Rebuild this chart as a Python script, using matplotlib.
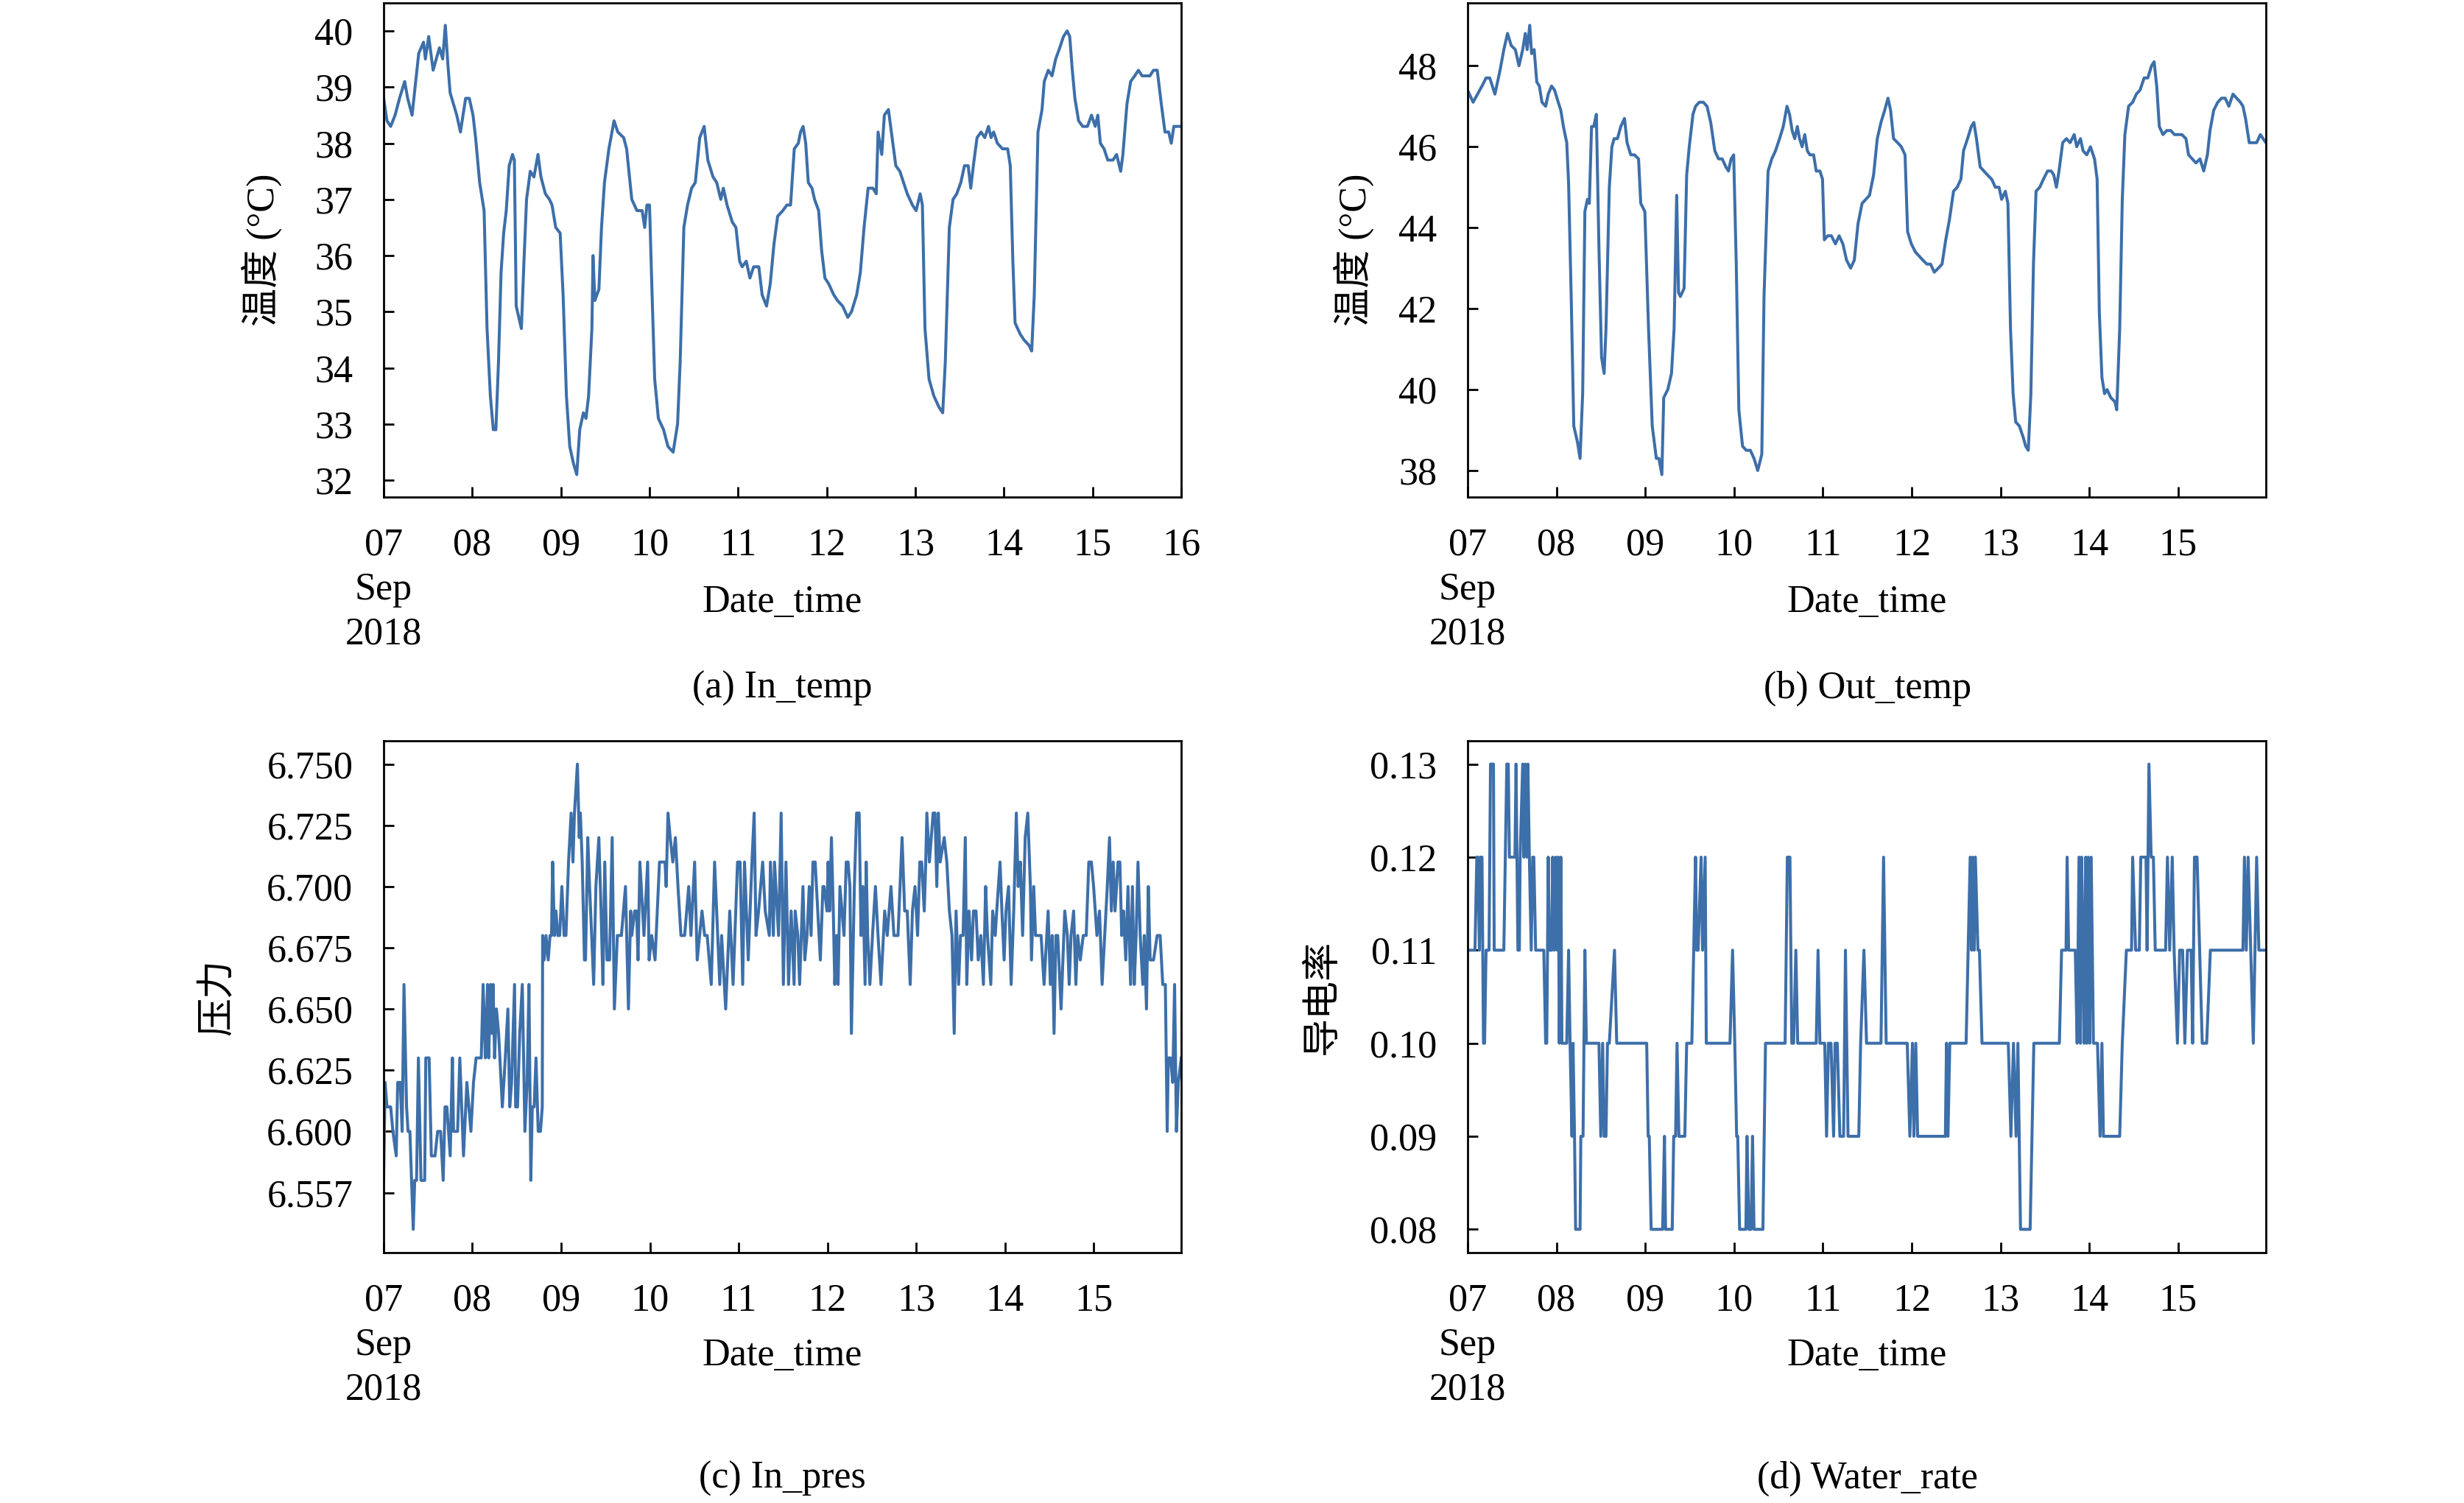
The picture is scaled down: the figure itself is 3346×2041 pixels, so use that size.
import numpy as np
import matplotlib
matplotlib.use("Agg")
import matplotlib.pyplot as plt

plt.rcParams['font.family'] = ['Liberation Serif', 'Noto Sans CJK SC']
plt.rcParams['font.size'] = 37.5
plt.rcParams['axes.linewidth'] = 2.0
plt.rcParams['xtick.direction'] = 'in'
plt.rcParams['ytick.direction'] = 'in'
plt.rcParams['xtick.major.size'] = 10
plt.rcParams['ytick.major.size'] = 10
plt.rcParams['xtick.major.width'] = 2.0
plt.rcParams['ytick.major.width'] = 2.0

""" data (hours since 2018-09-07 00:00, read off the figure) """
in_temp_h = [0.0, 0.9, 1.9, 3.1, 4.3, 5.7, 6.5, 7.7, 9.5, 10.8,
             11.3, 12.2, 13.4, 15.1, 16.0, 16.7, 17.4, 18.0, 19.8, 20.8,
             22.2, 23.2, 24.2, 24.9, 26.0, 27.2, 28.0, 28.9, 29.7, 30.4,
             31.1, 31.8, 32.5, 33.2, 34.0, 34.9, 35.4, 35.9, 37.3, 38.0,
             38.7, 39.7, 40.7, 41.8, 42.6, 43.8, 44.9, 45.6, 46.6, 47.8,
             48.6, 49.5, 50.4, 51.4, 52.3, 53.1, 54.1, 54.8, 55.5, 56.4,
             56.7, 57.2, 58.3, 59.0, 59.8, 61.0, 62.4, 63.4, 65.0, 65.8,
             67.2, 68.6, 70.0, 70.7, 71.3, 72.0, 72.7, 73.4, 74.4, 75.8,
             77.0, 78.4, 79.6, 80.3, 81.3, 82.3, 83.4, 84.4, 85.6, 86.8,
             87.8, 89.2, 90.2, 91.3, 92.0, 93.0, 94.4, 95.4, 96.4, 97.1,
             98.2, 99.2, 100.2, 101.6, 102.5, 103.7, 104.7, 105.7, 106.7, 108.1,
             109.2, 110.2, 111.2, 112.3, 112.9, 113.6, 114.3, 115.0, 116.0, 116.7,
             117.8, 118.6, 119.5, 120.5, 121.9, 122.9, 124.3, 125.7, 126.7, 128.1,
             129.1, 130.1, 131.2, 132.5, 133.4, 133.9, 134.9, 135.6, 136.7, 137.7,
             138.7, 139.8, 140.8, 141.8, 143.2, 144.2, 145.3, 145.9, 146.6, 147.7,
             149.0, 150.4, 151.4, 152.1, 153.2, 154.2, 155.2, 156.3, 157.3, 158.3,
             159.0, 159.7, 160.7, 161.8, 162.8, 163.8, 164.5, 165.2, 166.2, 167.6,
             169.0, 169.7, 170.4, 171.0, 172.4, 173.4, 174.8, 175.5, 176.2, 177.2,
             178.3, 178.9, 180.0, 181.0, 182.0, 183.1, 184.1, 185.1, 185.8, 186.5,
             187.2, 188.2, 189.3, 190.6, 191.7, 192.7, 193.4, 194.1, 195.1, 196.1,
             197.5, 198.5, 199.6, 200.2, 201.3, 202.3, 203.4, 204.4, 205.4, 206.5,
             207.5, 208.5, 209.5, 210.6, 211.6, 212.6, 213.3, 214.0, 216.0]
in_temp = [38.8, 38.4, 38.3, 38.5, 38.8, 39.1, 38.8, 38.5, 39.6, 39.8,
           39.5, 39.9, 39.3, 39.7, 39.5, 40.1, 39.4, 38.9, 38.5, 38.2,
           38.8, 38.8, 38.5, 38.1, 37.3, 36.8, 34.7, 33.5, 32.9, 32.9,
           34.1, 35.7, 36.4, 36.8, 37.6, 37.8, 37.7, 35.1, 34.7, 35.9,
           37.0, 37.5, 37.4, 37.8, 37.4, 37.1, 37.0, 36.9, 36.5, 36.4,
           35.3, 33.5, 32.6, 32.3, 32.1, 32.9, 33.2, 33.1, 33.5, 34.7,
           36.0, 35.2, 35.4, 36.5, 37.3, 37.9, 38.4, 38.2, 38.1, 37.9,
           37.0, 36.8, 36.8, 36.5, 36.9, 36.9, 35.3, 33.8, 33.1, 32.9,
           32.6, 32.5, 33.0, 34.1, 36.5, 36.9, 37.2, 37.3, 38.1, 38.3,
           37.7, 37.4, 37.3, 37.0, 37.2, 36.9, 36.6, 36.5, 35.9, 35.8,
           35.9, 35.6, 35.8, 35.8, 35.3, 35.1, 35.5, 36.2, 36.7, 36.8,
           36.9, 36.9, 37.9, 38.0, 38.2, 38.3, 38.0, 37.3, 37.2, 37.0,
           36.8, 36.1, 35.6, 35.5, 35.3, 35.2, 35.1, 34.9, 35.0, 35.3,
           35.7, 36.5, 37.2, 37.2, 37.1, 38.2, 37.8, 38.5, 38.6, 38.1,
           37.6, 37.5, 37.3, 37.1, 36.9, 36.8, 37.1, 36.9, 34.7, 33.8,
           33.5, 33.3, 33.2, 34.1, 36.5, 37.0, 37.1, 37.3, 37.6, 37.6,
           37.2, 37.6, 38.1, 38.2, 38.1, 38.3, 38.1, 38.2, 38.0, 37.9,
           37.9, 37.6, 35.9, 34.8, 34.6, 34.5, 34.4, 34.3, 35.3, 38.2,
           38.6, 39.1, 39.3, 39.2, 39.5, 39.7, 39.9, 40.0, 39.9, 39.3,
           38.8, 38.4, 38.3, 38.3, 38.5, 38.3, 38.5, 38.0, 37.9, 37.7,
           37.7, 37.8, 37.5, 37.8, 38.7, 39.1, 39.2, 39.3, 39.2, 39.2,
           39.2, 39.3, 39.3, 38.7, 38.2, 38.2, 38.0, 38.3, 38.3]

out_temp_h = [0.0, 1.5, 2.7, 3.9, 5.0, 6.0, 7.4, 8.8, 9.8, 10.8,
              11.8, 12.9, 13.9, 14.9, 15.6, 16.1, 16.8, 17.3, 18.0, 18.7,
              19.4, 20.1, 21.1, 21.8, 22.7, 23.5, 24.5, 25.2, 25.9, 26.8,
              27.3, 28.0, 28.7, 29.7, 30.4, 31.1, 31.7, 32.4, 32.9, 33.5,
              34.1, 34.8, 35.5, 36.2, 36.9, 37.4, 38.3, 39.0, 39.6, 40.5,
              41.4, 42.4, 43.1, 44.1, 45.1, 46.2, 46.8, 47.9, 48.9, 49.9,
              51.0, 51.7, 52.5, 53.0, 54.1, 55.1, 55.8, 56.5, 57.0, 57.5,
              58.5, 59.2, 59.9, 60.9, 61.6, 62.6, 63.7, 64.7, 65.7, 66.8,
              67.8, 68.8, 69.8, 70.5, 71.2, 71.9, 72.6, 73.3, 74.3, 75.3,
              76.4, 77.4, 78.4, 79.5, 80.1, 81.2, 82.2, 83.2, 84.3, 85.3,
              86.3, 87.0, 87.7, 88.4, 89.1, 89.7, 90.4, 91.1, 91.8, 92.5,
              93.5, 94.2, 95.2, 95.9, 96.4, 97.3, 98.3, 99.4, 100.4, 101.4,
              102.4, 103.5, 104.5, 105.5, 106.6, 107.6, 108.6, 109.7, 110.7, 111.7,
              112.7, 113.6, 114.3, 115.1, 116.2, 117.2, 118.2, 118.9, 119.9, 121.0,
              122.0, 123.0, 124.1, 125.1, 126.1, 127.2, 128.2, 129.2, 130.2, 131.3,
              132.3, 133.3, 134.0, 135.1, 136.1, 136.8, 137.5, 138.5, 139.5, 140.5,
              141.6, 142.6, 143.6, 144.3, 145.3, 146.0, 146.7, 147.4, 148.1, 149.1,
              150.2, 150.8, 151.5, 152.2, 152.9, 153.6, 154.6, 155.6, 156.7, 157.7,
              158.4, 159.1, 159.8, 160.8, 161.8, 162.8, 163.9, 164.6, 165.6, 166.3,
              167.3, 168.3, 169.4, 170.1, 170.7, 171.4, 172.1, 172.8, 173.8, 174.9,
              175.4, 176.2, 176.9, 177.6, 178.6, 179.7, 180.7, 181.7, 182.8, 183.8,
              184.8, 185.5, 186.2, 186.9, 187.9, 188.9, 190.0, 191.0, 192.0, 193.0,
              194.1, 194.8, 195.8, 196.8, 197.9, 198.9, 199.9, 200.6, 201.6, 202.7,
              203.7, 204.7, 205.7, 206.8, 207.8, 208.8, 209.5, 210.2, 211.2, 212.2,
              213.2, 214.2, 215.7]
out_temp = [47.4, 47.1, 47.3, 47.5, 47.7, 47.7, 47.3, 47.9, 48.4, 48.8,
            48.5, 48.4, 48.0, 48.4, 48.8, 48.4, 49.0, 48.3, 48.4, 47.6,
            47.5, 47.1, 47.0, 47.3, 47.5, 47.4, 47.1, 46.9, 46.5, 46.1,
            45.1, 42.3, 39.1, 38.7, 38.3, 39.9, 44.4, 44.7, 44.6, 46.5,
            46.5, 46.8, 43.5, 40.8, 40.4, 41.5, 45.0, 46.0, 46.2, 46.2,
            46.5, 46.7, 46.1, 45.8, 45.8, 45.7, 44.6, 44.4, 41.5, 39.1,
            38.3, 38.3, 37.9, 39.8, 40.0, 40.4, 41.5, 44.8, 42.4, 42.3,
            42.5, 45.3, 46.0, 46.8, 47.0, 47.1, 47.1, 47.0, 46.6, 45.9,
            45.7, 45.7, 45.5, 45.4, 45.7, 45.8, 43.1, 39.5, 38.6, 38.5,
            38.5, 38.3, 38.0, 38.4, 42.3, 45.4, 45.7, 45.9, 46.2, 46.5,
            47.0, 46.8, 46.4, 46.2, 46.5, 46.2, 46.0, 46.3, 45.9, 45.8,
            45.8, 45.4, 45.4, 45.2, 43.7, 43.8, 43.8, 43.6, 43.8, 43.6,
            43.2, 43.0, 43.2, 44.1, 44.6, 44.7, 44.8, 45.3, 46.2, 46.6,
            46.9, 47.2, 46.9, 46.2, 46.1, 46.0, 45.8, 43.9, 43.6, 43.4,
            43.3, 43.2, 43.1, 43.1, 42.9, 43.0, 43.1, 43.7, 44.2, 44.9,
            45.0, 45.2, 45.9, 46.2, 46.5, 46.6, 46.2, 45.5, 45.4, 45.3,
            45.2, 45.0, 45.0, 44.7, 44.9, 44.6, 41.5, 39.9, 39.2, 39.1,
            38.8, 38.6, 38.5, 39.9, 43.1, 44.9, 45.0, 45.2, 45.4, 45.4,
            45.3, 45.0, 45.4, 46.1, 46.2, 46.1, 46.3, 46.0, 46.2, 45.9,
            45.8, 46.0, 45.7, 45.2, 41.9, 40.3, 39.9, 40.0, 39.8, 39.7,
            39.5, 41.5, 44.7, 46.3, 47.0, 47.1, 47.3, 47.4, 47.7, 47.7,
            48.0, 48.1, 47.5, 46.5, 46.3, 46.4, 46.4, 46.3, 46.3, 46.3,
            46.2, 45.8, 45.7, 45.6, 45.7, 45.4, 45.8, 46.4, 46.9, 47.1,
            47.2, 47.2, 47.0, 47.3, 47.2, 47.1, 47.0, 46.7, 46.1, 46.1,
            46.1, 46.3, 46.1]

in_pres_h = [0.0, 0.4, 0.9, 1.4, 1.9, 2.5, 3.4, 3.8, 4.5, 5.0,
             5.5, 6.2, 6.6, 7.1, 8.0, 8.4, 8.9, 9.4, 10.1, 11.1,
             11.4, 12.3, 12.9, 13.9, 14.6, 15.4, 16.1, 16.6, 17.1, 18.0,
             18.6, 18.9, 20.0, 20.6, 21.6, 22.5, 23.6, 24.3, 25.0, 26.4,
             26.9, 27.5, 28.1, 28.4, 28.9, 29.3, 29.6, 30.0, 30.5, 31.1,
             32.1, 32.9, 33.6, 34.1, 34.6, 35.4, 35.7, 36.2, 36.8, 37.5,
             38.2, 38.8, 39.3, 39.8, 40.2, 40.7, 41.2, 41.8, 42.4, 42.9,
             43.0, 43.4, 43.9, 44.5, 45.0, 45.4, 45.7, 46.2, 46.6, 47.1,
             47.6, 48.2, 48.8, 49.3, 50.0, 50.7, 51.2, 51.6, 52.4, 52.9,
             53.2, 53.7, 54.3, 54.6, 55.2, 55.7, 56.8, 57.4, 58.2, 58.8,
             59.3, 59.8, 60.4, 61.1, 61.8, 62.4, 63.2, 64.3, 65.4, 66.2,
             66.8, 67.1, 67.9, 68.4, 68.8, 69.3, 70.4, 71.4, 71.8, 72.5,
             73.4, 74.6, 76.1, 76.4, 76.9, 77.5, 78.2, 78.9, 79.6, 80.4,
             81.4, 82.5, 83.1, 84.1, 84.8, 86.1, 86.8, 87.5, 88.6, 89.5,
             90.9, 91.4, 92.5, 93.6, 94.5, 95.7, 96.4, 97.1, 97.6, 98.6,
             99.6, 100.2, 100.7, 101.4, 102.5, 103.2, 104.3, 104.6, 105.4, 105.7,
             106.8, 107.5, 108.1, 108.8, 109.5, 110.2, 111.0, 111.3, 112.0, 112.5,
             113.4, 113.9, 114.5, 115.1, 115.6, 116.1, 116.7, 117.4, 118.1, 118.8,
             119.1, 119.9, 120.2, 120.6, 121.1, 121.6, 122.0, 122.5, 122.9, 123.4,
             124.5, 125.1, 125.6, 126.1, 126.5, 127.3, 127.9, 128.6, 129.1, 129.6,
             130.2, 130.5, 130.9, 131.5, 132.2, 133.0, 133.7, 134.5, 135.5, 136.2,
             137.2, 138.0, 139.1, 140.2, 140.9, 141.6, 142.4, 143.0, 143.7, 144.4,
             145.0, 145.5, 146.2, 146.6, 146.9, 147.6, 148.1, 148.6, 149.1, 149.6,
             150.0, 150.5, 151.6, 152.3, 153.0, 153.7, 154.3, 154.8, 155.5, 156.0,
             156.7, 157.3, 157.7, 158.3, 159.0, 159.5, 160.2, 160.8, 161.5, 162.2,
             162.8, 163.3, 164.2, 164.7, 165.4, 165.8, 166.7, 167.2, 167.8, 168.3,
             169.0, 169.7, 170.4, 171.1, 171.6, 172.2, 172.8, 173.5, 174.2, 174.9,
             175.2, 175.8, 176.3, 177.1, 177.8, 178.6, 179.7, 180.3, 180.8, 181.3,
             181.8, 182.3, 183.2, 184.2, 184.9, 185.4, 185.9, 186.6, 187.2, 187.7,
             188.4, 189.2, 190.0, 190.7, 191.4, 192.0, 192.9, 193.6, 194.3, 195.0,
             195.7, 196.3, 196.8, 197.3, 197.8, 198.6, 199.1, 199.6, 200.1, 200.7,
             201.3, 202.0, 202.5, 203.0, 203.5, 204.0, 204.6, 205.3, 205.7, 206.3,
             206.8, 207.3, 208.2, 209.2, 210.0, 210.7, 211.4, 211.9, 212.2, 212.8,
             213.4, 213.9, 214.4, 214.9, 215.7]
in_pres = [6.58, 6.62, 6.61, 6.61, 6.61, 6.60, 6.59, 6.62, 6.62, 6.60,
           6.66, 6.61, 6.60, 6.60, 6.56, 6.58, 6.58, 6.63, 6.58, 6.58,
           6.63, 6.63, 6.59, 6.59, 6.60, 6.60, 6.58, 6.61, 6.61, 6.59,
           6.63, 6.60, 6.60, 6.63, 6.59, 6.62, 6.60, 6.62, 6.63, 6.63,
           6.66, 6.63, 6.66, 6.63, 6.66, 6.64, 6.66, 6.63, 6.65, 6.64,
           6.61, 6.63, 6.65, 6.61, 6.62, 6.66, 6.61, 6.61, 6.64, 6.66,
           6.60, 6.62, 6.66, 6.58, 6.61, 6.61, 6.63, 6.60, 6.60, 6.61,
           6.68, 6.67, 6.68, 6.67, 6.68, 6.68, 6.71, 6.68, 6.69, 6.68,
           6.68, 6.70, 6.68, 6.68, 6.71, 6.73, 6.71, 6.73, 6.75, 6.72,
           6.73, 6.71, 6.67, 6.67, 6.72, 6.70, 6.66, 6.70, 6.72, 6.69,
           6.66, 6.71, 6.67, 6.67, 6.72, 6.65, 6.68, 6.68, 6.70, 6.65,
           6.69, 6.68, 6.69, 6.69, 6.67, 6.71, 6.68, 6.71, 6.67, 6.68,
           6.67, 6.71, 6.71, 6.70, 6.73, 6.72, 6.71, 6.72, 6.70, 6.68,
           6.68, 6.70, 6.68, 6.71, 6.67, 6.69, 6.68, 6.68, 6.66, 6.71,
           6.66, 6.68, 6.65, 6.69, 6.66, 6.71, 6.71, 6.66, 6.71, 6.67,
           6.71, 6.73, 6.68, 6.69, 6.71, 6.69, 6.68, 6.71, 6.68, 6.71,
           6.68, 6.73, 6.66, 6.71, 6.66, 6.69, 6.66, 6.69, 6.68, 6.66,
           6.70, 6.67, 6.68, 6.70, 6.68, 6.71, 6.71, 6.69, 6.67, 6.70,
           6.70, 6.69, 6.71, 6.69, 6.72, 6.69, 6.66, 6.68, 6.66, 6.70,
           6.68, 6.71, 6.71, 6.70, 6.64, 6.70, 6.73, 6.73, 6.68, 6.70,
           6.66, 6.71, 6.68, 6.66, 6.68, 6.70, 6.68, 6.66, 6.69, 6.68,
           6.70, 6.68, 6.68, 6.72, 6.69, 6.69, 6.66, 6.69, 6.70, 6.68,
           6.71, 6.71, 6.69, 6.71, 6.73, 6.71, 6.72, 6.73, 6.73, 6.70,
           6.73, 6.71, 6.72, 6.71, 6.69, 6.68, 6.64, 6.69, 6.66, 6.68,
           6.68, 6.72, 6.66, 6.69, 6.67, 6.69, 6.69, 6.67, 6.68, 6.66,
           6.70, 6.68, 6.66, 6.69, 6.68, 6.69, 6.71, 6.69, 6.67, 6.69,
           6.70, 6.66, 6.69, 6.73, 6.70, 6.71, 6.68, 6.72, 6.73, 6.70,
           6.67, 6.70, 6.68, 6.68, 6.68, 6.66, 6.69, 6.66, 6.68, 6.64,
           6.68, 6.68, 6.65, 6.69, 6.68, 6.66, 6.68, 6.69, 6.66, 6.68,
           6.67, 6.68, 6.68, 6.71, 6.71, 6.70, 6.68, 6.69, 6.66, 6.68,
           6.70, 6.72, 6.69, 6.71, 6.69, 6.71, 6.71, 6.68, 6.69, 6.67,
           6.70, 6.66, 6.70, 6.66, 6.68, 6.71, 6.68, 6.66, 6.68, 6.65,
           6.70, 6.67, 6.67, 6.68, 6.68, 6.66, 6.66, 6.60, 6.63, 6.63,
           6.62, 6.66, 6.60, 6.62, 6.63]

water_h = [0.0, 2.0, 2.5, 2.8, 3.2, 3.5, 3.9, 4.3, 4.6, 5.0,
           5.8, 6.2, 7.0, 7.2, 9.8, 10.6, 11.0, 11.3, 12.8, 13.1,
           13.6, 14.0, 14.2, 14.9, 15.2, 15.6, 16.0, 16.3, 16.7, 17.2,
           17.6, 17.9, 18.4, 20.6, 21.1, 21.4, 21.8, 22.1, 22.7, 23.0,
           23.4, 23.8, 24.2, 24.5, 24.8, 25.2, 25.5, 26.8, 27.3, 27.7,
           28.2, 28.5, 28.9, 29.2, 30.4, 30.6, 31.2, 31.7, 32.1, 35.5,
           36.0, 36.5, 36.9, 37.4, 37.8, 38.3, 39.7, 40.3, 48.4, 48.8,
           49.1, 49.6, 52.7, 53.2, 53.5, 55.3, 55.7, 56.2, 56.6, 57.1,
           58.7, 59.2, 60.6, 61.6, 61.9, 62.3, 63.1, 63.5, 64.2, 64.5,
           70.9, 71.6, 72.2, 72.7, 73.0, 73.5, 75.2, 75.5, 76.0, 76.6,
           77.0, 77.4, 79.8, 80.5, 85.8, 86.4, 87.1, 87.6, 88.1, 88.7,
           89.2, 94.2, 94.7, 95.2, 96.5, 97.0, 97.5, 98.2, 98.9, 99.3,
           99.9, 100.6, 101.6, 102.1, 102.8, 105.7, 106.2, 107.1, 107.8, 111.7,
           112.4, 113.1, 118.8, 119.5, 120.2, 120.6, 121.1, 121.6, 129.1, 129.4,
           129.8, 130.3, 134.7, 135.8, 136.2, 136.5, 136.9, 137.2, 137.9, 138.3,
           139.0, 146.1, 146.8, 147.5, 148.2, 148.7, 149.4, 152.0, 153.0, 159.9,
           160.5, 161.7, 162.0, 162.4, 164.2, 164.7, 165.2, 165.6, 165.9, 166.3,
           166.6, 167.0, 167.3, 167.7, 168.1, 168.5, 169.1, 170.2, 170.9, 171.4,
           171.8, 176.2, 176.9, 178.0, 179.4, 179.7, 180.5, 181.5, 181.9, 183.3,
           183.6, 184.1, 184.7, 185.3, 185.8, 188.6, 189.1, 189.7, 190.4, 190.9,
           191.8, 192.4, 193.2, 193.8, 194.5, 195.5, 195.9, 196.4, 197.1, 197.8,
           198.5, 199.7, 200.7, 209.5, 209.9, 210.4, 210.9, 211.6, 212.3, 213.2,
           213.8, 215.7]
water_rate = [0.11, 0.11, 0.12, 0.12, 0.11, 0.12, 0.12, 0.10, 0.10, 0.11,
              0.11, 0.13, 0.13, 0.11, 0.11, 0.13, 0.13, 0.12, 0.12, 0.13,
              0.11, 0.11, 0.12, 0.13, 0.12, 0.13, 0.12, 0.13, 0.12, 0.11,
              0.12, 0.12, 0.11, 0.11, 0.10, 0.10, 0.12, 0.11, 0.11, 0.12,
              0.11, 0.12, 0.11, 0.12, 0.10, 0.12, 0.10, 0.10, 0.11, 0.10,
              0.09, 0.10, 0.09, 0.08, 0.08, 0.09, 0.09, 0.11, 0.10, 0.10,
              0.09, 0.10, 0.09, 0.09, 0.10, 0.10, 0.11, 0.10, 0.10, 0.09,
              0.09, 0.08, 0.08, 0.09, 0.08, 0.08, 0.09, 0.09, 0.10, 0.09,
              0.09, 0.10, 0.10, 0.12, 0.11, 0.11, 0.12, 0.11, 0.12, 0.10,
              0.10, 0.11, 0.10, 0.09, 0.09, 0.08, 0.08, 0.09, 0.08, 0.08,
              0.09, 0.08, 0.08, 0.10, 0.10, 0.12, 0.12, 0.10, 0.10, 0.11,
              0.10, 0.10, 0.11, 0.10, 0.10, 0.09, 0.10, 0.10, 0.09, 0.10,
              0.10, 0.09, 0.09, 0.11, 0.09, 0.09, 0.10, 0.11, 0.10, 0.10,
              0.12, 0.10, 0.10, 0.09, 0.10, 0.09, 0.10, 0.09, 0.09, 0.10,
              0.09, 0.10, 0.10, 0.12, 0.11, 0.12, 0.11, 0.12, 0.11, 0.11,
              0.10, 0.10, 0.09, 0.10, 0.09, 0.10, 0.08, 0.08, 0.10, 0.10,
              0.11, 0.11, 0.12, 0.11, 0.11, 0.10, 0.12, 0.10, 0.12, 0.11,
              0.10, 0.12, 0.10, 0.12, 0.10, 0.12, 0.10, 0.10, 0.09, 0.10,
              0.09, 0.09, 0.10, 0.11, 0.11, 0.12, 0.11, 0.11, 0.12, 0.12,
              0.11, 0.13, 0.12, 0.12, 0.11, 0.11, 0.12, 0.11, 0.12, 0.11,
              0.10, 0.11, 0.11, 0.10, 0.11, 0.11, 0.10, 0.12, 0.12, 0.11,
              0.10, 0.10, 0.11, 0.11, 0.12, 0.11, 0.12, 0.11, 0.10, 0.12,
              0.11, 0.11]

# axis ticks / labels
day_labels_a = ['07\nSep\n2018', '08', '09', '10', '11', '12', '13', '14', '15', '16']
day_labels = ['07\nSep\n2018', '08', '09', '10', '11', '12', '13', '14', '15']
yt_a = [32, 33, 34, 35, 36, 37, 38, 39, 40]
yt_b = [38, 40, 42, 44, 46, 48]
yt_c = [6.575, 6.600, 6.625, 6.650, 6.675, 6.700, 6.725, 6.750]
yt_c_labels = ['6.557', '6.600', '6.625', '6.650', '6.675', '6.700', '6.725', '6.750']
yt_d = [0.08, 0.09, 0.10, 0.11, 0.12, 0.13]
yt_d_labels = ['0.08', '0.09', '0.10', '0.11', '0.12', '0.13']

base = np.datetime64('2018-09-07T00:00')
line_color = '#3d6fa9'


def to_time(hours):
    mins = np.round(np.asarray(hours) * 60).astype(np.int64)
    return base + mins.astype('timedelta64[m]')


def draw(ax, hours, vals, labels, yticks, ylabels, ylab, ylab_x, xlab_y):
    t = to_time(hours)
    ax.plot(t, vals, color=line_color, lw=2.9)
    ax.set_xlim(t[0], t[-1])
    ticks = [base + np.timedelta64(d, 'D') for d in range(len(labels))]
    ax.set_xticks(ticks)
    ax.set_xticklabels(labels, linespacing=1.34)
    ax.set_yticks(yticks)
    ax.set_yticklabels(ylabels)
    ax.tick_params(axis='x', pad=30)
    ax.tick_params(axis='y', pad=30)
    ax.set_xlabel('Date_time')
    ax.xaxis.label.set_verticalalignment('center')
    ax.xaxis.set_label_coords(0.5, xlab_y)
    ax.set_ylabel(ylab)
    ax.yaxis.label.set_verticalalignment('center')
    ax.yaxis.set_label_coords(ylab_x, 0.5)


fig = plt.figure(figsize=(33.46, 20.41), dpi=100)
ax_a = fig.add_axes([0.1557, 0.6693, 0.3237, 0.3288])
ax_b = fig.add_axes([0.5956, 0.6693, 0.3240, 0.3288])
ax_c = fig.add_axes([0.1557, 0.1666, 0.3237, 0.3405])
ax_d = fig.add_axes([0.5956, 0.1666, 0.3240, 0.3405])

draw(ax_a, in_temp_h, in_temp, day_labels_a, yt_a, [str(v) for v in yt_a], '温度 (°C)', -0.153, -0.213)
draw(ax_b, out_temp_h, out_temp, day_labels, yt_b, [str(v) for v in yt_b], '温度 (°C)', -0.143, -0.213)
draw(ax_c, in_pres_h, in_pres, day_labels, yt_c, yt_c_labels, '压力', -0.208, -0.201)
draw(ax_d, water_h, water_rate, day_labels, yt_d, yt_d_labels, '导电率', -0.181, -0.201)

fig.text(0.3176, 0.5419, '(a) In_temp', ha='center', va='center')
fig.text(0.7579, 0.5419, '(b) Out_temp', ha='center', va='center')
fig.text(0.3176, 0.0162, '(c) In_pres', ha='center', va='center')
fig.text(0.7579, 0.0162, '(d) Water_rate', ha='center', va='center')

fig.savefig('out.png', dpi=100)
